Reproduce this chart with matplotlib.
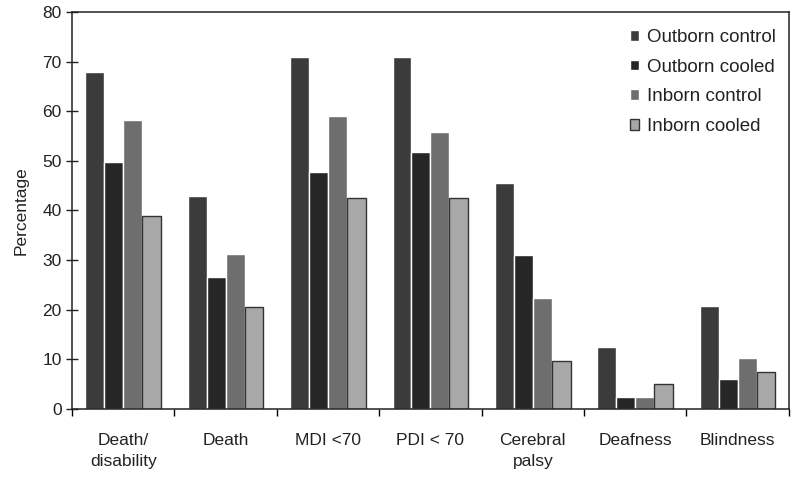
import numpy as np
import matplotlib.pyplot as plt

plt.rcParams['font.family'] = ['Liberation Sans', 'DejaVu Sans']

categories = ['Death/\ndisability', 'Death', 'MDI <70', 'PDI < 70',
              'Cerebral\npalsy', 'Deafness', 'Blindness']
series = ['Outborn control', 'Outborn cooled', 'Inborn control', 'Inborn cooled']
outborn_control = [68, 43, 71, 71, 45.5, 12.5, 20.7]
outborn_cooled = [49.7, 26.5, 47.7, 51.7, 31, 2.5, 6]
inborn_control = [58.2, 31.3, 59, 55.8, 22.3, 2.5, 10.3]
inborn_cooled = [38.9, 20.5, 42.5, 42.5, 9.7, 5.1, 7.5]

values = [outborn_control, outborn_cooled, inborn_control, inborn_cooled]
colors = ['#3b3b3b', '#262626', '#6e6e6e', '#a8a8a8']
edges = ['white', 'white', 'white', '#333333']

fig = plt.figure(figsize=(8, 4.8), dpi=100)
ax = fig.add_axes([0.09, 0.148, 0.896, 0.827])

x = np.arange(len(categories)) + 0.5
w = 0.185
for i, (vals, name) in enumerate(zip(values, series)):
    ax.bar(x + (i - 1.5) * w, vals, width=w, color=colors[i],
           edgecolor=edges[i], linewidth=1.0, label=name)

ax.set_xlim(0, len(categories))
ax.set_ylim(0, 80)
ax.set_yticks(range(0, 81, 10))
ax.tick_params(axis='y', direction='inout', length=8, labelsize=12.5, width=1,
               colors='#222222')

# major ticks at group boundaries, labels at centres
ax.set_xticks(np.arange(len(categories) + 1))
ax.set_xticklabels([])
ax.tick_params(axis='x', which='major', direction='out', length=5, width=1)
ax.set_xticks(x, minor=True)
ax.set_xticklabels(categories, minor=True, fontsize=12.5, color='#222222',
                   linespacing=1.5)
ax.tick_params(axis='x', which='minor', length=0, pad=17)

ax.set_ylabel('Percentage', fontsize=12.5, labelpad=10, color='#222222')

for s in ax.spines.values():
    s.set_linewidth(1.1)
    s.set_color('#222222')

leg = ax.legend(loc='upper right', frameon=False, fontsize=13.5, handlelength=0.5,
                handleheight=0.5, handletextpad=0.4, labelspacing=0.68,
                bbox_to_anchor=(1.005, 1.0))
for t in leg.get_texts():
    t.set_color('#222222')

fig.savefig('out.png', dpi=100)
